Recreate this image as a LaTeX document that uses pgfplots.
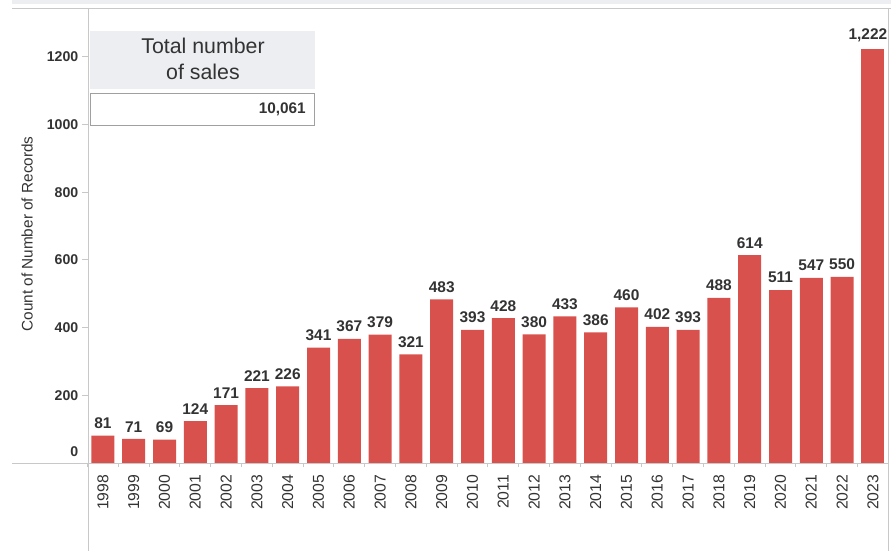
\documentclass[border=0pt]{standalone}
\usepackage{pgfplots}
\pgfplotsset{compat=1.18}
\usepackage{fontspec}
\setmainfont{Liberation Sans}
\definecolor{barred}{RGB}{217,81,76}
\definecolor{txt}{RGB}{51,51,51}
\definecolor{rule}{RGB}{200,200,200}
\definecolor{band}{RGB}{236,238,241}

\begin{document}
\begin{tikzpicture}[x=0.75pt,y=0.75pt]
\useasboundingbox (0,0) rectangle (891,551);
\begin{axis}[
    at={(65.625pt,66pt)}, anchor=south west,
    scale only axis,
    width=600.6pt, height=340.5pt,
    xmin=-0.5, xmax=25.5,
    ymin=0, ymax=1341,
    axis line style={draw=none},
    xtick pos=bottom, ytick pos=left,
    /pgf/number format/assume math mode=true,
    tick align=outside,
    major tick length=3.75pt,
    minor tick length=3pt,
    tick style={draw=rule, line width=0.75pt},
    xtick={0,...,25},
    xticklabels={1998,1999,2000,2001,2002,2003,2004,2005,2006,2007,2008,2009,2010,
                 2011,2012,2013,2014,2015,2016,2017,2018,2019,2020,2021,2022,2023},
    major x tick style={draw=none},
    minor xtick={-0.5,0.5,...,25.5},
    x tick label style={rotate=90, anchor=east, inner sep=0pt, font=\fontsize{11.8}{14}\selectfont, text=txt},
    xticklabel shift=5pt,
    ytick={200,400,...,1200},
    extra y ticks={0},
    extra y tick style={yticklabel style={yshift=8.25pt}},
    y tick label style={/pgf/number format/1000 sep={}, font=\fontsize{10.6}{12}\selectfont\bfseries, text=txt, inner sep=0pt},
    yticklabel shift=3pt,
    ylabel={Count of Number of Records},
    every axis y label/.style={at={(rel axis cs:-0.0755,0.5044)}, rotate=90, anchor=center,
        font=\fontsize{11.5}{13}\selectfont, text=txt},
    ybar, bar width=17.25pt, bar shift=0pt,
    nodes near coords,
    every node near coord/.append style={font=\fontsize{11.6}{13}\selectfont\bfseries, text=txt, inner sep=0pt, yshift=5pt},
]
\addplot[fill=barred, draw=none] coordinates {
    (0,81) (1,71) (2,69) (3,124) (4,171) (5,221) (6,226) (7,341) (8,367) (9,379)
    (10,321) (11,483) (12,393) (13,428) (14,380) (15,433) (16,386) (17,460) (18,402)
    (19,393) (20,488) (21,614) (22,511) (23,547) (24,550)};
\addplot[fill=barred, draw=none, every node near coord/.append style={xshift=-3.75pt}] coordinates {(25,1222)};
\end{axis}
% frame lines
\fill[band] (12,547) rectangle (891,551);
\draw[rule, line width=0.75pt] (12,542) -- (891,542);
\draw[rule, line width=0.75pt] (12,88) -- (888.5,88);
\draw[rule, line width=0.75pt] (88,542) -- (88,0);
\draw[rule, line width=0.75pt] (888.5,542) -- (888.5,0);
% total box
\fill[band] (90,520) rectangle (315,462);
\node[align=center, text=txt, font=\fontsize{16}{19.5}\selectfont] at (203,492) {Total number\\of sales};
\draw[fill=white, draw=rule!80!black, line width=0.75pt] (90.5,457) rectangle (314,426);
\node[anchor=east, text=txt, font=\fontsize{11.5}{13}\selectfont\bfseries, inner sep=0pt] at (306,442) {10,061};
\end{tikzpicture}
\end{document}
